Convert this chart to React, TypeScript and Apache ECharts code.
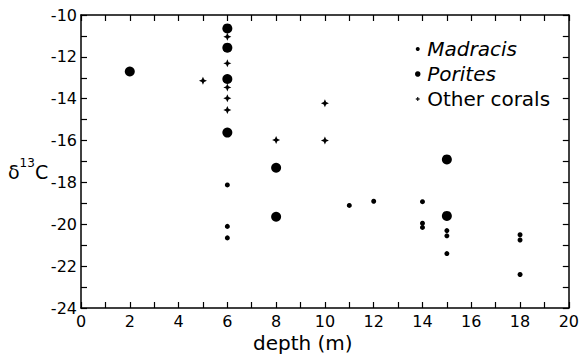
import React, { useEffect, useRef } from "react";
import * as echarts from "echarts";

const madracis: [number, number][] = [
  [6, -18.12], [6, -20.1], [6, -20.65], [11, -19.1], [12, -18.9],
  [14, -18.92], [14, -19.95], [14, -20.15], [15, -20.3], [15, -20.55],
  [15, -21.4], [18, -20.5], [18, -20.75], [18, -22.4],
];
const porites: [number, number][] = [
  [2, -12.7], [6, -10.64], [6, -11.56], [6, -13.06], [6, -15.62],
  [8, -17.3], [8, -19.64], [15, -16.9], [15, -19.6],
];
const otherCorals: [number, number][] = [
  [6, -11.04], [6, -12.31], [5, -13.14], [6, -13.46], [6, -13.98],
  [6, -14.54], [8, -15.97], [10, -14.22], [10, -16.0],
];
const seriesNames = ["Madracis", "Porites", "Other corals"];
const xAxisTitle = "depth (m)";

const STAR = "path://M0,-10 L3,-3 L10,0 L3,3 L0,10 L-3,3 L-10,0 L-3,-3 Z";
const FONT = "DejaVu Sans";
const INK = "#000";

export default function App() {
  const ref = useRef<HTMLDivElement>(null);
  useEffect(() => {
    if (!ref.current) return;
    const chart = echarts.init(ref.current, undefined, { renderer: "svg" });
    const lineStyle = { color: INK, width: 1.5 };
    const tick = { show: true, inside: true, length: 6, interval: 0, lineStyle: { color: INK, width: 1.2 } };
    const baseX = {
      type: "value" as const,
      min: 0,
      max: 20,
      interval: 1,
      axisLine: { show: true, onZero: false, lineStyle },
      axisTick: tick,
      splitLine: { show: false },
    };
    const baseY = {
      type: "value" as const,
      min: -24,
      max: -10,
      interval: 1,
      axisLine: { show: true, onZero: false, lineStyle },
      axisTick: tick,
      splitLine: { show: false },
    };
    const label = {
      show: true,
      fontFamily: FONT,
      fontSize: 16,
      color: INK,
      formatter: (v: number) => (v % 2 === 0 ? String(v) : ""),
    };
    chart.setOption({
      animation: false,
      backgroundColor: "#fff",
      grid: { left: 81, right: 13, top: 15, bottom: 50, containLabel: false },
      xAxis: [
        { ...baseX, position: "bottom", axisLabel: { ...label, margin: 5 } },
        { ...baseX, position: "top", axisLabel: { show: false } },
      ],
      yAxis: [
        { ...baseY, position: "left", axisLabel: { ...label, margin: 4 } },
        { ...baseY, position: "right", axisLabel: { show: false } },
      ],
      legend: {
        orient: "vertical",
        left: 415,
        top: 39,
        padding: 0,
        itemGap: 5,
        itemWidth: 9,
        itemHeight: 4,
        data: [
          { name: seriesNames[0], itemStyle: { opacity: 1, borderWidth: 0 } },
          { name: seriesNames[1], itemStyle: { opacity: 1, borderWidth: 1.5, borderColor: INK } },
          { name: seriesNames[2], icon: "path://M0,-10 L3,-3 L10,0 L3,3 L0,10 L-3,3 L-10,0 L-3,-3 Z", itemStyle: { opacity: 1, borderWidth: 0.5, borderColor: INK } },
        ],
        formatter: (name: string) => (name === "Other corals" ? name : `{i|${name}}`),
        textStyle: {
          fontFamily: FONT,
          fontSize: 20,
          color: INK,
          rich: { i: { fontFamily: FONT, fontSize: 20, fontStyle: "italic", color: INK } },
        },
      },
      graphic: [
        {
          type: "text",
          left: 253,
          top: 333,
          style: { text: xAxisTitle, fontFamily: FONT, fontSize: 20, fill: INK },
        },
        {
          type: "text",
          left: 8,
          top: 157,
          style: {
            text: "{b|δ}{s|13}{b|C}",
            rich: {
              b: { fontFamily: FONT, fontSize: 19, fill: INK, lineHeight: 24, verticalAlign: "bottom" },
              s: { fontFamily: FONT, fontSize: 12, fill: INK, lineHeight: 12, verticalAlign: "top" },
            },
          },
        },
      ],
      series: [
        {
          name: seriesNames[0],
          type: "scatter",
          data: madracis,
          symbol: "circle",
          symbolSize: 5,
          itemStyle: { color: INK, opacity: 1 },
        },
        {
          name: seriesNames[1],
          type: "scatter",
          data: porites,
          symbol: "circle",
          symbolSize: 10,
          itemStyle: { color: INK, opacity: 1 },
        },
        {
          name: seriesNames[2],
          type: "scatter",
          data: otherCorals,
          symbol: STAR,
          symbolSize: 8,
          itemStyle: { color: INK, opacity: 1 },
        },
      ],
    });
    return () => chart.dispose();
  }, []);
  return (
    <div
      ref={ref}
      style={{ position: "fixed", left: 0, top: 0, width: 582, height: 358, background: "#fff" }}
    />
  );
}
